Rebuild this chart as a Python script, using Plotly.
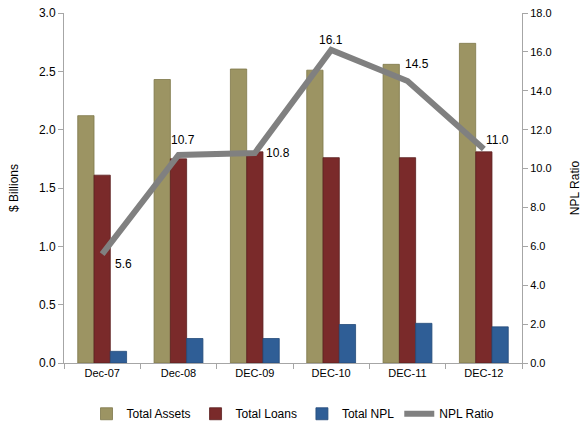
import plotly.graph_objects as go

categories = ["Dec-07", "Dec-08", "DEC-09", "DEC-10", "DEC-11", "DEC-12"]
total_assets = [2.12, 2.43, 2.52, 2.51, 2.56, 2.74]
total_loans = [1.61, 1.75, 1.81, 1.76, 1.76, 1.81]
total_npl = [0.10, 0.21, 0.21, 0.33, 0.34, 0.31]
npl_ratio = [5.6, 10.7, 10.8, 16.1, 14.5, 11.0]
label_xshift = [21, 4, 23, 0, 9, 14]
label_yshift = [-10, 15, 0, 10, 17, 9]

FONT = "Liberation Sans Narrow, Liberation Sans, Arial, sans-serif"

fig = go.Figure()
fig.add_trace(go.Bar(name="Total Assets", x=categories, y=total_assets,
                     marker=dict(color="#9C9463", line=dict(color="#7E774A", width=0.8))))
fig.add_trace(go.Bar(name="Total Loans", x=categories, y=total_loans,
                     marker=dict(color="#7A2A2A", line=dict(color="#5C1F1F", width=0.8))))
fig.add_trace(go.Bar(name="Total NPL", x=categories, y=total_npl,
                     marker=dict(color="#2F5E96", line=dict(color="#234A78", width=0.8))))
fig.add_trace(go.Scatter(name="NPL Ratio", x=categories, y=npl_ratio, yaxis="y2",
                         mode="lines", line=dict(color="#808080", width=6)))

for c, v, dx, dy in zip(categories, npl_ratio, label_xshift, label_yshift):
    fig.add_annotation(x=c, y=v, xref="x", yref="y2", text=f"{v:.1f}", showarrow=False,
                       xshift=dx, yshift=dy, font=dict(size=12, color="#000000", family=FONT))

fig.update_layout(
    width=582, height=427,
    margin=dict(l=64, r=60, t=13, b=64, autoexpand=False),
    paper_bgcolor="white", plot_bgcolor="white",
    font=dict(family=FONT, size=12, color="#000000"),
    barmode="group", bargap=0.36, bargroupgap=0,
    showlegend=True,
    legend=dict(orientation="h", x=0.5, xanchor="center", y=-0.145, yanchor="middle",
                font=dict(size=12, family=FONT), traceorder="normal"),
    xaxis=dict(showline=True, linecolor="#A6A6A6", linewidth=1, ticks="outside",
               tickson="boundaries", ticklen=5, tickcolor="#A6A6A6", automargin=False,
               showgrid=False, tickfont=dict(size=11)),
    yaxis=dict(range=[0, 3.0], dtick=0.5, tickformat=".1f", showline=True,
               linecolor="#A6A6A6", linewidth=1, ticks="outside", ticklen=5,
               tickcolor="#A6A6A6", showgrid=False, zeroline=False, automargin=False,
               title=dict(text="$ Billions", font=dict(size=12), standoff=17),
               tickfont=dict(size=12)),
    yaxis2=dict(range=[0, 18.0], dtick=2, tickformat=".1f", overlaying="y", side="right",
                showline=True, linecolor="#A6A6A6", linewidth=1, ticks="outside",
                ticklen=5, tickcolor="#A6A6A6", showgrid=False, zeroline=False,
                automargin=False,
                title=dict(text="NPL Ratio", font=dict(size=12), standoff=21),
                tickfont=dict(size=11)),
)

fig.write_html("out.html")
